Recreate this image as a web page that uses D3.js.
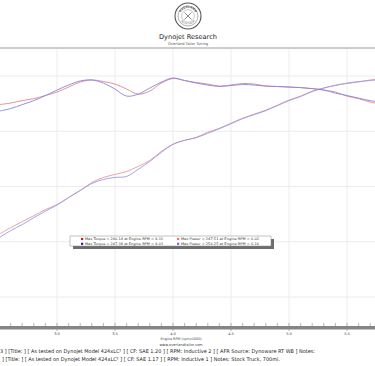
<!DOCTYPE html>
<html>
<head>
<meta charset="utf-8">
<script src="https://cdn.jsdelivr.net/npm/d3@7"></script>
<style>
body{margin:0;background:#fff;overflow:hidden}
svg{display:block}
</style>
</head>
<body>
<svg id="chart" width="375" height="366"></svg>
<script>
// engine rpm (x1000) sampled along the runs
var rpm = [2.5,2.6,2.7,2.8,2.9,3.0,3.1,3.2,3.3,3.4,3.5,3.6,3.7,3.8,3.9,4.0,4.1,4.2,4.3,4.4,4.5,4.6,4.7,4.8,4.9,5.0,5.1,5.2,5.3,5.4,5.5,5.6,5.7,5.8]

var torqueRun1 = [224.1,225.5,227.7,229.5,232.3,235.5,240.0,244.5,246.4,245.0,242.7,238.2,233.6,236.4,243.6,247.7,245.9,244.1,242.7,240.9,241.8,243.2,242.7,240.9,240.5,240.0,239.5,238.6,237.3,235.5,231.8,229.5,226.4,224.5]
var torqueRun2 = [218.2,220.5,224.1,227.7,232.3,237.3,241.8,245.5,246.4,243.6,238.2,231.8,233.6,239.1,244.5,248.2,245.9,243.6,241.8,240.5,241.4,242.3,241.8,240.9,240.5,240.0,239.5,238.6,237.3,234.5,232.3,230.0,227.7,226.4]
var powerRun1 = [106.8,112.7,118.2,123.6,129.1,133.6,140.0,146.4,153.6,158.2,160.9,163.6,168.2,173.6,181.8,188.2,191.8,194.5,199.1,202.7,207.3,211.8,215.5,219.1,223.6,228.2,231.8,236.4,239.1,241.8,243.2,244.5,246.4,247.7]
var powerRun2 = [103.6,110.0,115.5,121.8,127.7,133.2,140.0,146.4,152.7,156.4,158.2,159.1,165.5,172.7,180.9,188.2,191.8,194.1,198.2,202.3,206.8,211.4,215.0,218.6,223.2,227.7,231.4,235.9,239.1,241.4,243.6,245.0,245.9,246.8]

var xTicks = [3.0,3.5,4.0,4.5,5.0,5.5]
var yTicks = [50,100,150,200,250]

var legendRows = [
	["Max Torque = 246.14 at Engine RPM = 4.31", "Max Power = 247.51 at Engine RPM = 6.02"],
	["Max Torque = 247.38 at Engine RPM = 4.03", "Max Power = 256.25 at Engine RPM = 6.16"]
]
var notes = [
	"3 ] [Title: ] [ As tested on Dynojet Model 424xLC\u00b2 ] [ CF: SAE 1.20 ] [ RPM: Inductive 2 ] [ AFR Source: Dynoware RT WB ] Notes:",
	"] [Title: ] [ As tested on Dynojet Model 424xLC\u00b2 ] [ CF: SAE 1.17 ] [ RPM: Inductive 1 ] Notes: Stock Truck, 700mi."
]

var svg = d3.select("#chart")
var font = "Tahoma, 'DejaVu Sans', sans-serif"

var x = d3.scaleLinear().domain([3.0,5.5]).range([57,347])
var y = d3.scaleLinear().domain([50,250]).range([297,76])

var plotTop = 49, plotBottom = 326

// header / logo
var logo = svg.append("g").attr("transform","translate(188,16)")
logo.append("circle").attr("r",13).style("fill","#fff").style("stroke","#555").style("stroke-width",1.1)
logo.append("circle").attr("r",10).style("fill","none").style("stroke","#666").style("stroke-width",0.5)
logo.append("circle").attr("r",6.3).style("fill","none").style("stroke","#777").style("stroke-width",0.4)
logo.append("path").attr("id","arcTop").attr("d","M-8.2,0 A8.2,8.2 0 0,1 8.2,0").style("fill","none")
logo.append("path").attr("id","arcBot").attr("d","M-8.6,0 A8.6,8.6 0 0,0 8.6,0").style("fill","none")
logo.append("text").style("font-family",font).style("font-size","3px").style("font-weight","bold").style("fill","#555")
	.append("textPath").attr("href","#arcTop").attr("startOffset","50%").attr("text-anchor","middle").text("OVERLAND")
logo.append("text").style("font-family",font).style("font-size","2.2px").style("fill","#666")
	.append("textPath").attr("href","#arcBot").attr("startOffset","50%").attr("text-anchor","middle").text("TAILOR TUNING")
logo.append("line").attr("x1",-3.5).attr("y1",-3.5).attr("x2",3.5).attr("y2",3.5).style("stroke","#555").style("stroke-width",0.7)
logo.append("line").attr("x1",3.5).attr("y1",-3.5).attr("x2",-3.5).attr("y2",3.5).style("stroke","#555").style("stroke-width",0.7)

svg.append("text").attr("x",188).attr("y",39).attr("text-anchor","middle")
	.style("font-family",font).style("font-size","6.6px").style("fill","#222").text("Dynojet Research")
svg.append("text").attr("x",188).attr("y",45).attr("text-anchor","middle")
	.style("font-family",font).style("font-size","3.6px").style("fill","#555").text("Overland Tailor Tuning")

svg.append("line").attr("x1",0).attr("x2",375).attr("y1",48).attr("y2",48).style("stroke","#9a9a9a").style("stroke-width",1)

// grid
svg.append("g").selectAll("line").data(xTicks).join("line")
	.attr("x1",d=>x(d)).attr("x2",d=>x(d)).attr("y1",plotTop).attr("y2",plotBottom)
	.style("stroke","#ececec").style("stroke-width",1)
svg.append("g").selectAll("line").data(yTicks).join("line")
	.attr("x1",0).attr("x2",375).attr("y1",d=>y(d)).attr("y2",d=>y(d))
	.style("stroke","#ececec").style("stroke-width",1)

svg.append("clipPath").attr("id","plotClip").append("rect")
	.attr("x",0).attr("y",plotTop).attr("width",375).attr("height",plotBottom-plotTop)

var line = d3.line().x((d,i)=>x(rpm[i])).y(d=>y(d)).curve(d3.curveCatmullRom)

var series = [
	{vals:powerRun1, color:"#e59a9a"},
	{vals:powerRun2, color:"#9a9ae5"},
	{vals:torqueRun1, color:"#e58585"},
	{vals:torqueRun2, color:"#8585e5"}
]
svg.append("g").attr("clip-path","url(#plotClip)").selectAll("path").data(series).join("path")
	.attr("d",d=>line(d.vals))
	.style("fill","none").style("stroke",d=>d.color).style("stroke-width",1).style("opacity",0.9)

// legend
var lg = svg.append("g").attr("transform","translate(70,236)")
lg.append("rect").attr("x",3).attr("y",3).attr("width",201).attr("height",10).style("fill","#6d6d6d")
lg.append("rect").attr("x",0).attr("y",0).attr("width",201).attr("height",10).style("fill","#fff").style("stroke","#888").style("stroke-width",0.5)
var markColors = [["#c81e1e","#e87070"],["#1e1eb4","#6c6cf0"]]
legendRows.forEach(function(row,r){
	row.forEach(function(txt,c){
		var cx = c==0 ? 11 : 107
		var cy = 3 + r*4.8
		lg.append("rect").attr("x",cx).attr("y",cy-1.1).attr("width",2.2).attr("height",2.2).style("fill",markColors[r][c])
		lg.append("text").attr("x",cx+4).attr("y",cy+1.2)
			.attr("textLength",78).attr("lengthAdjust","spacingAndGlyphs")
			.style("font-family",font).style("font-size","3.3px").style("fill","#333").text(txt)
	})
})

// x axis bar with ticks
var minor = d3.range(26,58).map(d=>d/10)
svg.append("rect").attr("x",0).attr("y",326).attr("width",375).attr("height",3.5).style("fill","#858585")
svg.append("g").selectAll("line").data(minor).join("line")
	.attr("x1",d=>x(d)).attr("x2",d=>x(d)).attr("y1",323).attr("y2",326)
	.style("stroke","#888").style("stroke-width",0.6)
svg.append("g").selectAll("line").data(xTicks).join("line")
	.attr("x1",d=>x(d)).attr("x2",d=>x(d)).attr("y1",329).attr("y2",331)
	.style("stroke","#888").style("stroke-width",0.6)
svg.append("g").selectAll("text").data(xTicks).join("text")
	.attr("x",d=>x(d)).attr("y",334.5).attr("text-anchor","middle")
	.style("font-family",font).style("font-size","3.6px").style("fill","#444").text(d=>d.toFixed(1))

svg.append("text").attr("x",181).attr("y",340).attr("text-anchor","middle")
	.style("font-family",font).style("font-size","3.4px").style("fill","#444").text("Engine RPM (rpmx1000)")
svg.append("text").attr("x",181).attr("y",346).attr("text-anchor","middle")
	.style("font-family",font).style("font-size","3.6px").style("fill","#444").text("www.overlandtailor.com")

svg.selectAll(".note").data(notes).join("text").attr("class","note")
	.attr("x",(d,i)=>i==0?0:2).attr("y",(d,i)=>353+i*8.3)
	.attr("textLength",(d,i)=>i==0?315:278).attr("lengthAdjust","spacingAndGlyphs")
	.style("font-family",font).style("font-size","5.2px").style("fill","#222").text(d=>d)
</script>
</body>
</html>
